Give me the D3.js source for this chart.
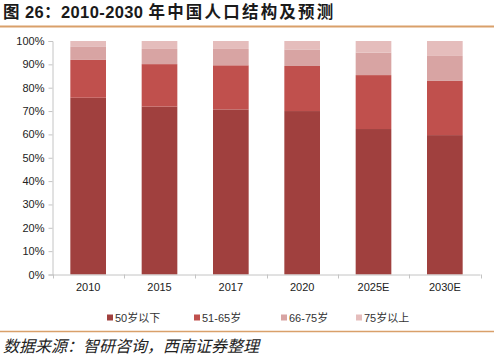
<!DOCTYPE html>
<html><head><meta charset="utf-8">
<script src="https://cdn.jsdelivr.net/npm/d3@7/dist/d3.min.js"></script>
<style>
html,body{margin:0;padding:0;background:#fff;}
svg{display:block;}
</style></head>
<body>
<svg id="c" width="494" height="356"></svg>
<script>
const categories = ["2010","2015","2017","2020","2025E","2030E"];
const seriesNames = ["50岁以下","51-65岁","66-75岁","75岁以上"];
const under50 = [75.7, 71.9, 70.7, 70.0, 62.3, 59.7];
const age51to65 = [16.2, 18.2, 18.9, 19.3, 23.1, 23.2];
const age66to75 = [5.8, 6.5, 7.0, 7.1, 9.6, 10.7];
const over75 = [2.3, 3.4, 3.4, 3.6, 5.0, 6.4];
const yTicks = [0,10,20,30,40,50,60,70,80,90,100];
const colors = ["#a0403e","#c0504d","#d8a4a3","#e5bdbc"];

(function(){
const svg = d3.select("#c");
const latin = "'Liberation Sans', Arial, 'Noto Sans CJK SC', sans-serif";
const cjk = "'Noto Sans CJK SC', sans-serif";

// title
const t = svg.append("text").attr("x",3).attr("y",18)
  .attr("font-family", latin)
  .attr("font-weight","bold").attr("font-size",16.5).attr("fill","#1a1a1a");
t.append("tspan").attr("letter-spacing",0.4).text("图 26：2010-2030 ");
t.append("tspan").attr("letter-spacing",2.2).text("年中国人口结构及预测");
svg.append("line").attr("x1",0).attr("x2",494).attr("y1",26.5).attr("y2",26.5)
  .attr("stroke","#d9a06a").attr("stroke-width",2);
svg.append("line").attr("x1",0).attr("x2",494).attr("y1",331.5).attr("y2",331.5)
  .attr("stroke","#d9a06a").attr("stroke-width",1.5);
svg.append("text").attr("x",3).attr("y",352)
  .attr("font-family", cjk).attr("font-style","italic")
  .attr("font-size",16).attr("fill","#222")
  .text("数据来源：智研咨询，西南证券整理");

const pLeft = 52.5, pRight = 480.5, pTop = 41, pBottom = 274.5;
const x = d3.scaleBand().domain(categories).range([pLeft,pRight]).paddingInner(0.5).paddingOuter(0.25);
const y = d3.scaleLinear().domain([0,100]).range([pBottom, pTop]);

const rows = categories.map((c,i)=>({cat:c, s0:under50[i], s1:age51to65[i], s2:age66to75[i], s3:over75[i]}));
const stack = d3.stack().keys(["s0","s1","s2","s3"])(rows);

const g = svg.append("g");
stack.forEach((layer,li)=>{
  g.selectAll(null).data(layer).enter().append("rect")
    .attr("x", d=>x(d.data.cat))
    .attr("width", x.bandwidth())
    .attr("y", d=>y(d[1]))
    .attr("height", d=>y(d[0])-y(d[1]))
    .attr("fill", colors[li]);
});

// y axis
const axisColor = "#c4c4c4";
const yAxis = svg.append("g").attr("transform",`translate(${pLeft},0)`)
  .call(d3.axisLeft(y).tickValues(yTicks).tickFormat(d=>d+"%").tickSize(4).tickPadding(4));
yAxis.select(".domain").attr("stroke",axisColor);
yAxis.selectAll(".tick line").attr("stroke",axisColor);
yAxis.selectAll("text").attr("font-family",latin).attr("font-size",11).attr("fill","#222");

// x axis
const xAxis = svg.append("g").attr("transform",`translate(0,${pBottom})`)
  .call(d3.axisBottom(x).tickSize(0).tickPadding(9));
xAxis.select(".domain").attr("stroke",axisColor).attr("d",`M${pLeft},0.5H${pRight}`);
xAxis.selectAll("text").attr("font-family",latin).attr("font-size",11).attr("fill","#222");
const step = x.step();
const bounds = [x(categories[0]) - step*0.25].concat(categories.map(c=>x(c)+x.bandwidth()+step*0.25));
xAxis.selectAll(".bt").data(bounds).enter().append("line")
  .attr("x1",d=>Math.round(d)+0.5).attr("x2",d=>Math.round(d)+0.5)
  .attr("y1",0).attr("y2",4).attr("stroke",axisColor);

// legend
const legX = [107, 194, 281, 356];
const leg = svg.append("g");
seriesNames.forEach((n,i)=>{
  leg.append("rect").attr("x",legX[i]).attr("y",314.5).attr("width",6).attr("height",6).attr("fill",colors[i]);
  leg.append("text").attr("x",legX[i]+8).attr("y",322)
    .attr("font-family",latin).attr("font-size",11).attr("fill","#333").text(n);
});
})();
</script>
</body></html>
